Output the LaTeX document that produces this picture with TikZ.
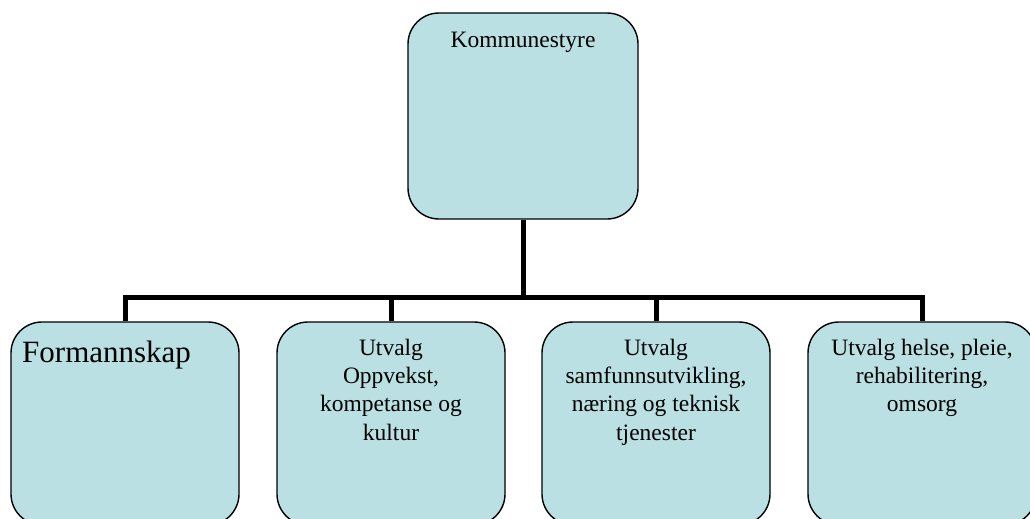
\documentclass[tikz,border=0pt]{standalone}
\usepackage{fontspec}
\setmainfont{Liberation Serif}
\definecolor{boxfill}{RGB}{186,224,227}
\tikzset{
  orgbox/.style={draw=black, line width=1.4pt, fill=boxfill, rounded corners=31pt, inner sep=0pt},
  topbox/.style={orgbox, minimum width=230pt, minimum height=206pt},
  subbox/.style={orgbox, minimum width=228pt, minimum height=203pt},
  boxtext/.style={inner sep=0pt, font=\fontsize{23.5}{28.4}\selectfont, align=center},
  bigtext/.style={inner sep=0pt, font=\fontsize{31}{36}\selectfont},
  conn/.style={line width=5pt, draw=black}
}
\begin{document}
\begin{tikzpicture}[x=1pt, y=-1pt]
\useasboundingbox (0,0) rectangle (1030,519);
\clip (0,0) rectangle (1030,519);
\node[topbox] (k) at (523,116) {};
\node[subbox] (b1) at (125,423.5) {};
\node[subbox] (b2) at (391,423.5) {};
\node[subbox] (b3) at (656,423.5) {};
\node[subbox] (b4) at (922,423.5) {};
\coordinate (bus) at (523,297);
\draw[conn] (k.south) -- (bus);
\draw[conn] (b1.north) -- (b1.north |- bus) -- (b4.north |- bus) -- (b4.north);
\draw[conn] (b2.north) -- (b2.north |- bus);
\draw[conn] (b3.north) -- (b3.north |- bus);
\node[boxtext, anchor=base] (tk) at (523,48) {Kommunestyre};
\node[bigtext, anchor=base west] (t1) at (22,362) {Formannskap};
\node[boxtext, anchor=north] (t2) at (391,338.5) {Utvalg\\Oppvekst,\\kompetanse og\\kultur};
\node[boxtext, anchor=north] (t3) at (656,338.5) {Utvalg\\samfunnsutvikling,\\næring og teknisk\\tjenester};
\node[boxtext, anchor=north] (t4) at (922,338.5) {Utvalg helse, pleie,\\rehabilitering,\\omsorg};
\end{tikzpicture}
\end{document}
